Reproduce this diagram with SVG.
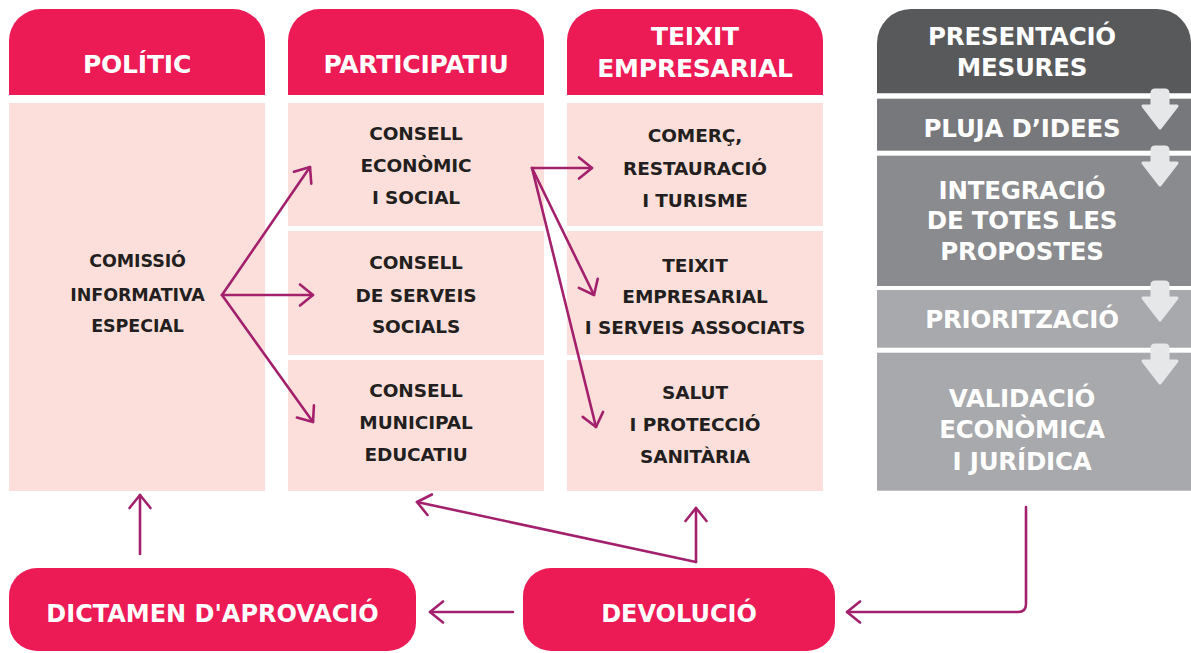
<svg xmlns="http://www.w3.org/2000/svg" width="1191" height="653" viewBox="0 0 1191 653">
<defs>
<style>
.hd{fill:#ec1a55}
.bd{fill:#fcdfdb}
.t{font-family:"DejaVu Sans","Liberation Sans",sans-serif;font-weight:bold;text-anchor:middle}
.hw{fill:#ffffff;font-size:25px;letter-spacing:-0.2px}
.gw{fill:#ffffff;font-size:24.5px;letter-spacing:-0.2px}
.bk{fill:#231f20;font-size:18.5px;letter-spacing:-0.1px}
.bk1{fill:#231f20;font-size:17.5px;letter-spacing:-0.1px}
.cn{fill:none;stroke:#a3206d;stroke-width:2.6;stroke-linecap:round;stroke-linejoin:round}
.ic{fill:#e6e7e8;stroke:#e6e7e8;stroke-width:3;stroke-linejoin:round}
</style>
<marker id="ah" markerUnits="userSpaceOnUse" viewBox="-16 -13 18 26" refX="0" refY="0" markerWidth="18" markerHeight="26" orient="auto" overflow="visible">
<path d="M-13,-10.5 L0,0 L-13,10.5" fill="none" stroke="#a3206d" stroke-width="2.6" stroke-linecap="round" stroke-linejoin="round"/>
</marker>
</defs>
<rect width="1191" height="653" fill="#ffffff"/>

<g id="politic">
<path class="hd" d="M9,95 V41 A32,32 0 0 1 41,9 H233 A32,32 0 0 1 265,41 V95 Z"/>
<text class="t hw" x="137" y="73">POLÍTIC</text>
</g>
<g id="comissio">
<rect class="bd" x="9" y="103" width="256" height="388"/>
<text class="t bk1" x="137.5" y="267.3">COMISSIÓ</text>
<text class="t bk1" x="137.5" y="300.7">INFORMATIVA</text>
<text class="t bk1" x="137.5" y="332.3">ESPECIAL</text>
</g>

<g id="participatiu">
<path class="hd" d="M288,95 V41 A32,32 0 0 1 320,9 H512 A32,32 0 0 1 544,41 V95 Z"/>
<text class="t hw" x="416" y="73">PARTICIPATIU</text>
</g>
<g id="consell-economic">
<rect class="bd" x="288" y="103" width="256" height="123"/>
<text class="t bk" x="416" y="140">CONSELL</text>
<text class="t bk" x="416" y="172.3">ECONÒMIC</text>
<text class="t bk" x="416" y="204.3">I SOCIAL</text>
</g>
<g id="consell-serveis">
<rect class="bd" x="288" y="231" width="256" height="124"/>
<text class="t bk" x="416" y="269.3">CONSELL</text>
<text class="t bk" x="416" y="301.7">DE SERVEIS</text>
<text class="t bk" x="416" y="333.3">SOCIALS</text>
</g>
<g id="consell-educatiu">
<rect class="bd" x="288" y="360" width="256" height="131"/>
<text class="t bk" x="416" y="396.7">CONSELL</text>
<text class="t bk" x="416" y="428.7">MUNICIPAL</text>
<text class="t bk" x="416" y="460.7">EDUCATIU</text>
</g>

<g id="teixit">
<path class="hd" d="M567,95 V41 A32,32 0 0 1 599,9 H791 A32,32 0 0 1 823,41 V95 Z"/>
<text class="t hw" x="695" y="45">TEIXIT</text>
<text class="t hw" x="695" y="77">EMPRESARIAL</text>
</g>
<g id="comerc">
<rect class="bd" x="567" y="103" width="256" height="123"/>
<text class="t bk" x="695" y="141.7">COMERÇ,</text>
<text class="t bk" x="695" y="175">RESTAURACIÓ</text>
<text class="t bk" x="695" y="207.3">I TURISME</text>
</g>
<g id="teixit-serveis">
<rect class="bd" x="567" y="231" width="256" height="124"/>
<text class="t bk" x="695" y="271.7">TEIXIT</text>
<text class="t bk" x="695" y="302.7">EMPRESARIAL</text>
<text class="t bk" x="695" y="334.3">I SERVEIS ASSOCIATS</text>
</g>
<g id="salut">
<rect class="bd" x="567" y="360" width="256" height="131"/>
<text class="t bk" x="695" y="399">SALUT</text>
<text class="t bk" x="695" y="430.7">I PROTECCIÓ</text>
<text class="t bk" x="695" y="462.7">SANITÀRIA</text>
</g>

<g id="presentacio">
<path fill="#58595b" d="M877,93.3 V43 A34,34 0 0 1 911,9 H1157 A34,34 0 0 1 1191,43 V93.3 Z"/>
<text class="t gw" x="1022" y="45">PRESENTACIÓ</text>
<text class="t gw" x="1022" y="76">MESURES</text>
</g>
<g id="pluja">
<rect fill="#77787b" x="877" y="98.7" width="314" height="52"/>
<text class="t gw" x="1022" y="137.3">PLUJA D’IDEES</text>
</g>
<g id="integracio">
<rect fill="#8a8b8e" x="877" y="155.7" width="314" height="130.3"/>
<text class="t gw" x="1022" y="199">INTEGRACIÓ</text>
<text class="t gw" x="1022" y="229.3">DE TOTES LES</text>
<text class="t gw" x="1022" y="260">PROPOSTES</text>
</g>
<g id="prioritzacio">
<rect fill="#a7a9ac" x="877" y="290" width="314" height="57.7"/>
<text class="t gw" x="1022" y="328.3">PRIORITZACIÓ</text>
</g>
<g id="validacio">
<rect fill="#a7a9ac" x="877" y="352.7" width="314" height="138"/>
<text class="t gw" x="1022" y="407.3">VALIDACIÓ</text>
<text class="t gw" x="1022" y="438.3">ECONÒMICA</text>
<text class="t gw" x="1022" y="470">I JURÍDICA</text>
</g>
<g id="step-arrows">
<path class="ic" d="M1152,106 V93 Q1152,90 1155,90 H1165 Q1168,90 1168,93 V106 H1177 L1160,128 L1143,106 Z"/>
<path class="ic" d="M1152,163 V150 Q1152,147 1155,147 H1165 Q1168,147 1168,150 V163 H1177 L1160,185 L1143,163 Z"/>
<path class="ic" d="M1152,298 V285 Q1152,282 1155,282 H1165 Q1168,282 1168,285 V298 H1177 L1160,320 L1143,298 Z"/>
<path class="ic" d="M1152,361 V348 Q1152,345 1155,345 H1165 Q1168,345 1168,348 V361 H1177 L1160,383 L1143,361 Z"/>
</g>

<g id="dictamen">
<rect class="hd" x="9" y="568" width="407" height="83" rx="28"/>
<text class="t" x="212.5" y="622" font-size="24" fill="#ffffff">DICTAMEN D'APROVACIÓ</text>
</g>
<g id="devolucio">
<rect class="hd" x="523" y="568" width="312" height="83" rx="28"/>
<text class="t" x="679" y="622" font-size="24" fill="#ffffff">DEVOLUCIÓ</text>
</g>

<g id="connectors">
<path class="cn" marker-end="url(#ah)" d="M222,295 L310,167"/>
<path class="cn" marker-end="url(#ah)" d="M222,295 L313,295"/>
<path class="cn" marker-end="url(#ah)" d="M222,295 L313,422"/>
<path class="cn" marker-end="url(#ah)" d="M532,168 L592,168"/>
<path class="cn" marker-end="url(#ah)" d="M532,168 L594,295"/>
<path class="cn" marker-end="url(#ah)" d="M532,168 L596,427"/>
<path class="cn" marker-end="url(#ah)" d="M696,562 L417,502"/>
<path class="cn" marker-end="url(#ah)" d="M696,562 L696,508"/>
<path class="cn" marker-end="url(#ah)" d="M140,554 L140,495"/>
<path class="cn" marker-end="url(#ah)" d="M513,612 L430,612"/>
<path class="cn" marker-end="url(#ah)" d="M1026,507 V604 Q1026,612 1018,612 H847"/>
</g>
</svg>
